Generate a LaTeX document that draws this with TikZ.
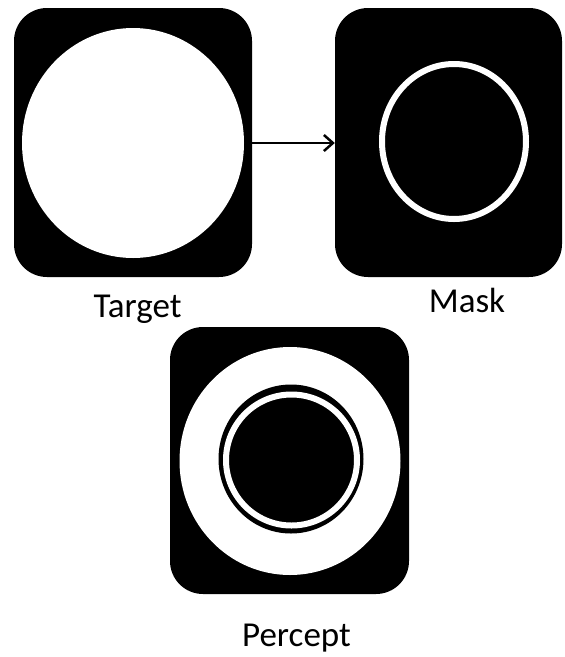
\documentclass[tikz,border=0pt]{standalone}
\usepackage{fontspec}
\setmainfont{Carlito}
\usetikzlibrary{arrows.meta}
\begin{document}
\begin{tikzpicture}[x=1pt,y=-1pt,
  panel/.style={rectangle,fill=black,draw=none,rounded corners=33pt,inner sep=0pt},
  disc/.style={ellipse,draw=none,inner sep=0pt},
  ringw/.style={ellipse,draw=white,inner sep=0pt},
  lbl/.style={anchor=base,inner sep=0pt,font=\fontsize{35}{40}\selectfont}]
\useasboundingbox (0,0) rectangle (565,657);
% panels
\node[panel,minimum width=238pt,minimum height=269pt] (target) at (133,142.5) {};
\node[panel,minimum width=227pt,minimum height=269pt] (mask) at (448.5,142.5) {};
\node[panel,minimum width=239pt,minimum height=267pt] (percept) at (289.5,460.5) {};
% target disc
\fill[white] (133,143) ellipse [x radius=111, y radius=115];
% mask ring
\draw[white,line width=6pt] (454,141.5) ellipse [x radius=72, y radius=77.5];
% percept
\fill[white] (290,461) ellipse [x radius=110.5, y radius=114];
\fill[black] (291,459) ellipse [x radius=72.5, y radius=74.5];
\draw[white,line width=6pt] (291.5,460) ellipse [x radius=65.5, y radius=65.5];
% arrow
\draw[line width=2.5pt,-{Straight Barb[length=9pt,width=16pt]}] (target.east |- 0,143) coordinate (a0) -- (mask.west |- 0,143) coordinate (a1);
% labels
\node[lbl] (tl) at (137.5,317) {Target};
\node[lbl] (ml) at (467,312) {Mask};
\node[lbl] (pl) at (296.5,646) {Percept};
\end{tikzpicture}
\end{document}
